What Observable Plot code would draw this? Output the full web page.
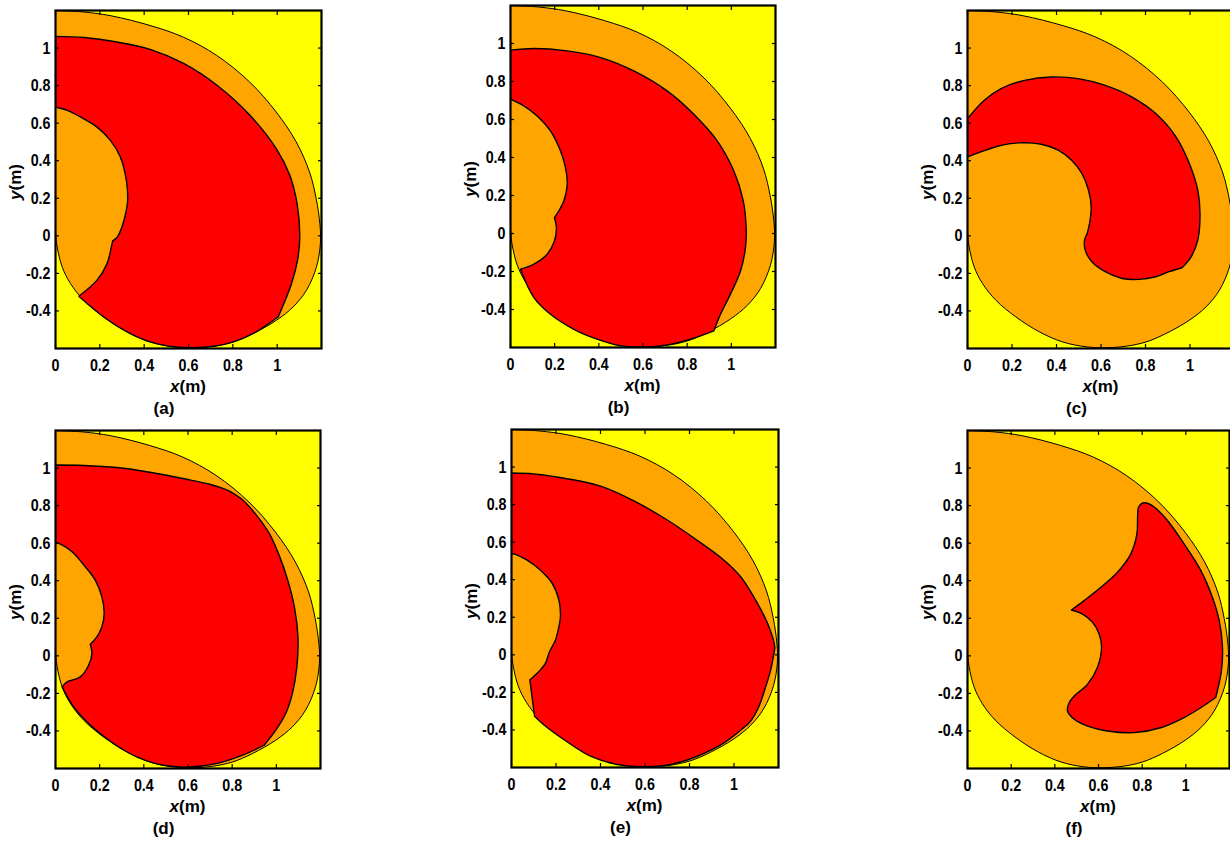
<!DOCTYPE html>
<html>
<head>
<meta charset="utf-8">
<script src="https://cdn.jsdelivr.net/npm/d3@7"></script>
<script src="https://cdn.jsdelivr.net/npm/@observablehq/plot@0.6"></script>
<style>
  html, body { margin: 0; padding: 0; background: #fff; }
  body { width: 1230px; height: 844px; position: relative; overflow: hidden; }
  .panel { position: absolute; }
  .panel svg { max-width: none !important; display: block; }
</style>
</head>
<body>
<script>
// ---- data ----
const xTicks = [0, 0.2, 0.4, 0.6, 0.8, 1];
const xTickLabels = ["0", "0.2", "0.4", "0.6", "0.8", "1"];
const yTicks = [-0.4, -0.2, 0, 0.2, 0.4, 0.6, 0.8, 1];
const yTickLabels = ["-0.4", "-0.2", "0", "0.2", "0.4", "0.6", "0.8", "1"];
const panelLabels = ["(a)", "(b)", "(c)", "(d)", "(e)", "(f)"];
const xLabelVar = "x", yLabelVar = "y", unitLabel = "(m)";

// Each region is a list of smooth pieces; the first point of every piece is a corner.
// outer (orange) boundary, same in every panel
const outerBoundary = [
  [[0,1.2],[0.1275,1.192],[0.25,1.172],[0.427,1.12],[0.577,1.058],[0.727,0.961],[0.876,0.819],[0.996,0.659],
   [1.086,0.5],[1.146,0.34],[1.176,0.198],[1.193,0.06],[1.195,-0.04],[1.1775,-0.165],[1.1325,-0.289],
   [1.0725,-0.378],[0.9975,-0.449],[0.8925,-0.52],[0.8025,-0.565],[0.7125,-0.588],[0.6225,-0.596],
   [0.5325,-0.591],[0.4275,-0.565],[0.3225,-0.511],[0.2175,-0.432],[0.1275,-0.343],[0.0675,-0.254],
   [0.03,-0.165],[0.0075,-0.059]],
  [[0,0.012]]
];

const redA = [
  [[0,1.062],[0.128,1.056],[0.277,1.032],[0.427,0.993],[0.578,0.918],[0.727,0.803],[0.877,0.642],[0.996,0.464],
   [1.057,0.322],[1.09,0.17],[1.102,-0.005],[1.092,-0.13],[1.065,-0.254]],
  [[1.005,-0.431],[0.8925,-0.52],[0.8025,-0.565],[0.7125,-0.588],[0.6225,-0.596],[0.5325,-0.591],[0.4275,-0.565],
   [0.3225,-0.511],[0.2175,-0.432]],
  [[0.105,-0.322],[0.1875,-0.236],[0.2325,-0.148],[0.252,-0.059]],
  [[0.258,-0.027],[0.2775,-0.009],[0.30,0.048],[0.3195,0.136],[0.3255,0.189],[0.3195,0.296],[0.2925,0.42],
   [0.2475,0.508],[0.1875,0.579],[0.1125,0.633],[0.0525,0.668]],
  [[0,0.686]]
];
const redB = [
  [[0,0.965],[0.106,0.974],[0.257,0.961],[0.408,0.926],[0.558,0.856],[0.709,0.751],[0.83,0.628],[0.936,0.488],
   [1.011,0.33],[1.054,0.172],[1.067,0.032],[1.064,-0.074],[1.042,-0.196],[0.996,-0.319],[0.951,-0.425]],
  [[0.921,-0.512],[0.815,-0.556],[0.709,-0.586],[0.604,-0.598],[0.498,-0.591],[0.392,-0.556],[0.287,-0.504],
   [0.181,-0.425],[0.106,-0.337]],
  [[0.045,-0.188],[0.106,-0.161],[0.166,-0.109],[0.199,-0.039],[0.208,0.032]],
  [[0.199,0.084],[0.219,0.119],[0.242,0.172],[0.257,0.26],[0.249,0.347],[0.226,0.435],[0.181,0.54],
   [0.121,0.619],[0.06,0.672]],
  [[0,0.707]]
];
const redC = [
  [[0,0.624],[0.0755,0.722],[0.151,0.784],[0.257,0.828],[0.378,0.846],[0.498,0.837],[0.619,0.801],[0.74,0.739],
   [0.846,0.651],[0.937,0.527],[0.997,0.385],[1.035,0.243],[1.045,0.119],[1.035,-0.023],[1.005,-0.112]],
  [[0.964,-0.17],[0.906,-0.191],[0.846,-0.218],[0.77,-0.232],[0.695,-0.227],[0.619,-0.191],[0.559,-0.138],
   [0.529,-0.076],[0.526,-0.023]],
  [[0.538,0.012],[0.551,0.083],[0.556,0.154],[0.544,0.243],[0.514,0.332],[0.468,0.402],[0.408,0.456],
   [0.332,0.488],[0.227,0.495],[0.136,0.477],[0.06,0.447]],
  [[0,0.42]]
];
const redD = [
  [[0,1.016],[0.1275,1.014],[0.2775,1.003],[0.4275,0.978],[0.6075,0.937],[0.698,0.914],[0.758,0.892]],
  [[0.79,0.876],[0.848,0.83],[0.908,0.752],[0.968,0.652],[1.013,0.535],[1.05,0.41],[1.082,0.26],[1.098,0.1],
   [1.093,-0.059],[1.0725,-0.201],[1.0425,-0.307],[0.9975,-0.396]],
  [[0.945,-0.476],[0.8475,-0.529],[0.7275,-0.574],[0.6075,-0.592],[0.4875,-0.583],[0.3675,-0.538],[0.2625,-0.467],
   [0.1575,-0.369],[0.0825,-0.272]],
  [[0.03,-0.165],[0.0525,-0.139],[0.1125,-0.112],[0.15,-0.05],[0.165,0.012]],
  [[0.1575,0.062],[0.1875,0.101],[0.21,0.155],[0.2205,0.226],[0.21,0.314],[0.18,0.403],[0.135,0.474],
   [0.075,0.554],[0.0225,0.595]],
  [[0,0.602]]
];
const redE = [
  [[0,0.968],[0.1,0.963],[0.25,0.938],[0.4,0.898],[0.55,0.82],[0.7,0.718],[0.82,0.622],[0.955,0.504],
   [1.03,0.416],[1.105,0.275],[1.157,0.15],[1.183,0.044]],
  [[1.18,0.01],[1.165,-0.08],[1.143,-0.168],[1.112,-0.275],[1.08,-0.345]],
  [[1.062,-0.37],[0.955,-0.469],[0.835,-0.54],[0.715,-0.584],[0.595,-0.596],[0.475,-0.584],[0.355,-0.54],
   [0.235,-0.451],[0.145,-0.372]],
  [[0.1035,-0.327],[0.096,-0.257]],
  [[0.0825,-0.133],[0.1,-0.115],[0.13,-0.08],[0.153,-0.044],[0.168,0.009]],
  [[0.175,0.027],[0.198,0.08],[0.213,0.15],[0.22,0.204],[0.213,0.292],[0.183,0.381],[0.13,0.451],
   [0.07,0.504],[0.018,0.535]],
  [[0,0.54]]
];
const redF = [
  [[0.476,0.244],[0.534,0.294],[0.611,0.365],[0.687,0.445],[0.748,0.543],[0.776,0.649],[0.779,0.738],
   [0.783,0.79],[0.797,0.811],[0.82,0.814],[0.855,0.792],[0.916,0.721],[0.992,0.596],[1.069,0.454],
   [1.122,0.311],[1.153,0.187],[1.168,0.044],[1.163,-0.08]],
  [[1.137,-0.222],[1.069,-0.276],[0.992,-0.329],[0.885,-0.383],[0.763,-0.409],[0.641,-0.4],[0.55,-0.374],
   [0.489,-0.338],[0.458,-0.294],[0.466,-0.249],[0.489,-0.214],[0.55,-0.151],[0.595,-0.062],[0.614,0.044],
   [0.603,0.116],[0.573,0.178],[0.527,0.222]]
];
const redRegions = [redA, redB, redC, redD, redE, redF];

// ---- layout (pixel placement of each panel's frame) ----
const frames = [
  {left: 55,  top: 10,  w: 266, h: 338},
  {left: 510, top: 5,   w: 265, h: 342},
  {left: 967, top: 10,  w: 267, h: 338},
  {left: 55,  top: 430, w: 265, h: 338},
  {left: 511, top: 429, w: 267, h: 338},
  {left: 967, top: 430, w: 262, h: 338}
];
const colors = {bg: "#ffff00", outer: "#ffa500", red: "#ff0000"};
const mL = 55, mR = 12, mT = 10, mB = 78;
const font = "'Liberation Sans',Arial,Helvetica,sans-serif";
const tickSqueeze = 0.84;

// corners are doubled so the smooth curve keeps them sharp
const ring = pieces => pieces.flatMap(p => [p[0], ...p]);

frames.forEach((f, i) => {
  const W = mL + f.w + mR, H = mT + f.h + mB;
  const div = document.createElement("div");
  div.className = "panel";
  div.style.left = (f.left - mL) + "px";
  div.style.top = (f.top - mT) + "px";
  div.style.width = W + "px";
  div.style.height = H + "px";
  document.body.appendChild(div);

  const textOpts = {fontFamily: font, fontSize: 17, fontWeight: "bold"};
  const svgEl = Plot.plot({
    width: W, height: H,
    marginLeft: mL, marginRight: mR, marginTop: mT, marginBottom: mB,
    x: {domain: [0, 1.2], axis: null},
    y: {domain: [-0.6, 1.2], axis: null},
    style: {fontFamily: font, fontSize: "17px", fontWeight: "bold", background: "white", color: "black", overflow: "visible"},
    marks: [
      Plot.frame({fill: colors.bg, stroke: null}),
      Plot.line(ring(outerBoundary), {x: d => d[0], y: d => d[1], curve: "catmull-rom-closed", fill: colors.outer, stroke: "black", strokeWidth: 1, clip: true}),
      Plot.line(ring(redRegions[i]), {x: d => d[0], y: d => d[1], curve: "catmull-rom-closed", fill: colors.red, stroke: "black", strokeWidth: 1.4, strokeLinejoin: "miter", clip: true}),
      Plot.axisX(xTicks, {anchor: "bottom", tickSize: -4, fill: null, label: null, strokeWidth: 1.2}),
      Plot.axisX(xTicks, {anchor: "top", tickSize: -4, fill: null, label: null, strokeWidth: 1.2}),
      Plot.axisY(yTicks, {anchor: "left", tickSize: -4, fill: null, label: null, strokeWidth: 1.2}),
      Plot.axisY(yTicks, {anchor: "right", tickSize: -4, fill: null, label: null, strokeWidth: 1.2}),
      Plot.axisX(xTicks, {anchor: "bottom", tickSize: 0, tickPadding: 10, label: null, ...textOpts, tickFormat: d => xTickLabels[xTicks.indexOf(d)]}),
      Plot.axisY(yTicks, {anchor: "left", tickSize: 0, tickPadding: 5, label: null, ...textOpts, tickFormat: d => yTickLabels[yTicks.indexOf(d)]}),
      Plot.frame({stroke: "black", strokeWidth: 2.2, fill: null})
    ]
  });
  div.appendChild(svgEl);

  const svg = d3.select(svgEl);
  // tick labels in the reference are horizontally condensed
  svg.selectAll("text").each(function () {
    const L = this.getComputedTextLength();
    if (L > 0) {
      this.setAttribute("textLength", (L * tickSqueeze).toFixed(2));
      this.setAttribute("lengthAdjust", "spacingAndGlyphs");
    }
  });

  const lab = sel => sel.style("font-family", font).style("font-size", "17px").style("font-weight", "bold").attr("fill", "black");
  // x axis label
  const xl = svg.append("text")
    .attr("x", mL + f.w / 2).attr("y", mT + f.h + 44)
    .attr("text-anchor", "middle").call(lab);
  xl.append("tspan").style("font-style", "italic").text(xLabelVar);
  xl.append("tspan").text(unitLabel);
  // y axis label
  const yl = svg.append("text")
    .attr("transform", `translate(${mL - 34},${mT + f.h / 2 + 3}) rotate(-90)`)
    .attr("text-anchor", "middle").call(lab);
  yl.append("tspan").style("font-style", "italic").text(yLabelVar);
  yl.append("tspan").text(unitLabel);
  // panel caption
  svg.append("text")
    .attr("x", mL + f.w / 2 - 24).attr("y", mT + f.h + 66)
    .attr("text-anchor", "middle").call(lab)
    .text(panelLabels[i]);
});
</script>
</body>
</html>
